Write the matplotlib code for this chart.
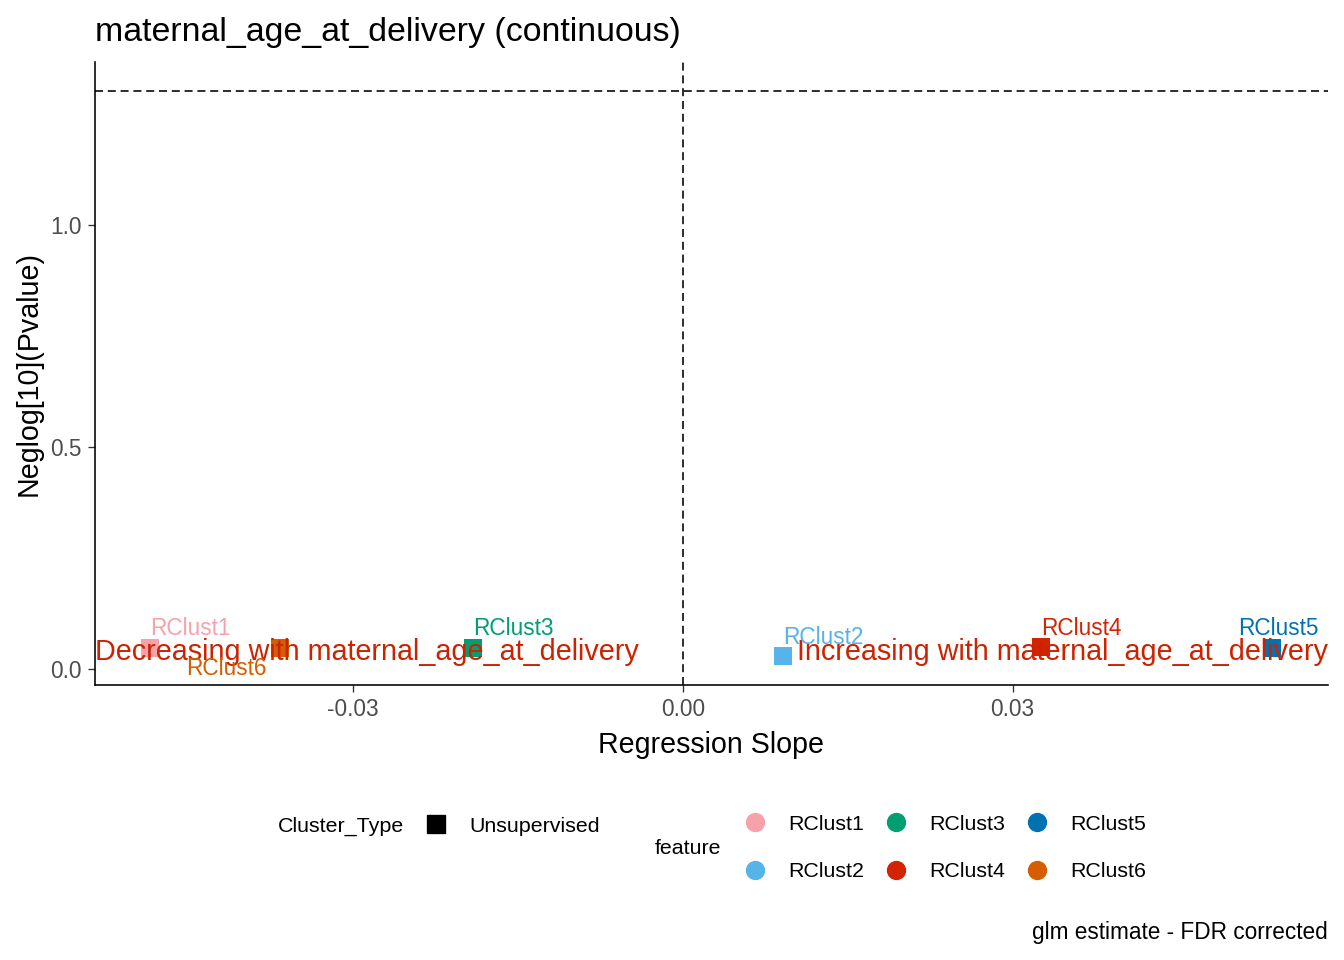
import numpy as np
import matplotlib
matplotlib.use('Agg')
import matplotlib.pyplot as plt
from matplotlib.lines import Line2D

plt.rcParams['font.family'] = ['Liberation Sans', 'DejaVu Sans']

# data
features = ['RClust1', 'RClust2', 'RClust3', 'RClust4', 'RClust5', 'RClust6']
slope = [-0.0485, 0.0091, -0.0191, 0.0326, 0.0536, -0.0367]
neglog_p = [0.047, 0.029, 0.047, 0.050, 0.047, 0.047]
colors = ['#F7A1AB', '#56B4E9', '#009E73', '#D42300', '#0072B2', '#D55E00']
# label nudges (points), mimicking ggrepel placement
label_off = [(30, 15), (30, 14), (30, 15), (30, 14), (5, 15), (-40, -15)]

sig_line = -np.log10(0.05)
ann_color = '#CC2200'

fig = plt.figure(figsize=(14, 10), dpi=96)
ax = fig.add_axes([95/1344, 1-685/960, (1328-95)/1344, (685-62)/960])

ax.axhline(sig_line, color='k', ls=(0, (5, 3)), lw=1.2, zorder=1)
ax.axvline(0, color='k', ls=(0, (5, 3)), lw=1.2, zorder=1)

for f, x, y, c, off in zip(features, slope, neglog_p, colors, label_off):
    ax.scatter(x, y, marker='s', s=180, color=c, zorder=3, linewidths=0)
    ax.annotate(f, (x, y), xytext=off, textcoords='offset points',
                ha='center', va='center', color=c, fontsize=17, zorder=5)

xmin, xmax = -0.0535, 0.0587
ax.set_xlim(xmin, xmax)
ax.set_ylim(-0.036, 1.367)

ax.text(xmin, 0.038, 'Decreasing with maternal_age_at_delivery', color=ann_color,
        fontsize=21.6, ha='left', va='center', zorder=4)
ax.text(xmax, 0.038, 'Increasing with maternal_age_at_delivery', color=ann_color,
        fontsize=21.6, ha='right', va='center', zorder=4)

ax.set_xticks([-0.03, 0.0, 0.03])
ax.set_xticklabels(['-0.03', '0.00', '0.03'])
ax.set_yticks([0.0, 0.5, 1.0])
ax.set_yticklabels(['0.0', '0.5', '1.0'])
ax.tick_params(labelsize=17, labelcolor='#4D4D4D', length=5, width=1, color='#333333', pad=5)
for side in ['top', 'right']:
    ax.spines[side].set_visible(False)
for side in ['left', 'bottom']:
    ax.spines[side].set_linewidth(1.2)

ax.set_xlabel('Regression Slope', fontsize=21.5, labelpad=7)
ax.set_ylabel('Neglog[10](Pvalue)', fontsize=21.5, labelpad=6)
ax.set_title('maternal_age_at_delivery (continuous)', loc='left', fontsize=25.4, pad=16)

# legends
fs_leg = 16
fig.text(278/1344, 1-826/960, 'Cluster_Type', fontsize=fs_leg, va='center', ha='left')
h1 = [Line2D([], [], marker='s', ls='', color='k', markersize=13)]
fig.legend(h1, ['Unsupervised'], loc='center left', bbox_to_anchor=(415/1344, 1-826/960),
           frameon=False, fontsize=fs_leg, borderpad=0, borderaxespad=0, handletextpad=0.55)

fig.text(655/1344, 1-849/960, 'feature', fontsize=fs_leg, va='center', ha='left')
h2 = [Line2D([], [], marker='o', ls='', color=c, markersize=13.5) for c in colors]
fig.legend(h2, features, loc='center left', bbox_to_anchor=(734/1344, 1-848/960),
           ncol=3, frameon=False, fontsize=fs_leg, borderpad=0, borderaxespad=0,
           handletextpad=0.55, columnspacing=0.5, labelspacing=1.32)

fig.text(1328/1344, 1-933/960, 'glm estimate - FDR corrected', fontsize=17,
         ha='right', va='center')

fig.savefig('out.png', dpi=96)
